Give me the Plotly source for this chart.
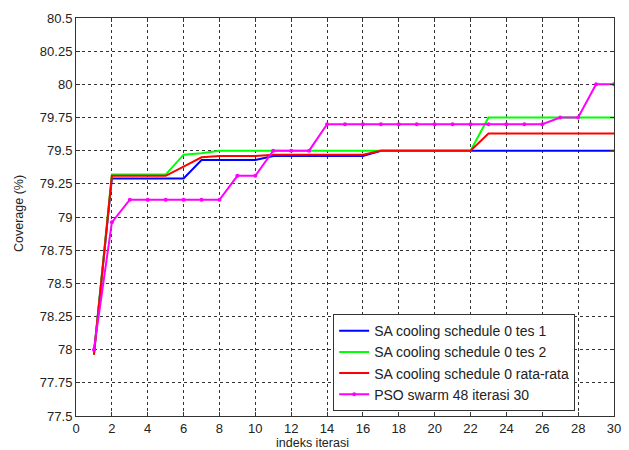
import plotly.graph_objects as go

iterasi = list(range(1, 31))

sa_tes1 = [77.97, 79.29, 79.29, 79.29, 79.29, 79.29, 79.43, 79.43, 79.43, 79.43,
           79.46, 79.46, 79.46, 79.46, 79.46, 79.46, 79.50, 79.50, 79.50, 79.50,
           79.50, 79.50, 79.50, 79.50, 79.50, 79.50, 79.50, 79.50, 79.50, 79.50]
sa_tes2 = [77.97, 79.32, 79.32, 79.32, 79.32, 79.47, 79.48, 79.50, 79.50, 79.50,
           79.50, 79.50, 79.50, 79.50, 79.50, 79.50, 79.50, 79.50, 79.50, 79.50,
           79.50, 79.50, 79.75, 79.75, 79.75, 79.75, 79.75, 79.75, 79.75, 79.75]
sa_rata = [77.96, 79.31, 79.31, 79.31, 79.31, 79.38, 79.45, 79.46, 79.46, 79.46,
           79.47, 79.47, 79.47, 79.47, 79.47, 79.47, 79.50, 79.50, 79.50, 79.50,
           79.50, 79.50, 79.63, 79.63, 79.63, 79.63, 79.63, 79.63, 79.63, 79.63]
pso = [78.00, 78.96, 79.13, 79.13, 79.13, 79.13, 79.13, 79.13, 79.31, 79.31,
       79.50, 79.50, 79.50, 79.70, 79.70, 79.70, 79.70, 79.70, 79.70, 79.70,
       79.70, 79.70, 79.70, 79.70, 79.70, 79.70, 79.75, 79.75, 80.00, 80.00]

names = ["SA cooling schedule 0 tes 1", "SA cooling schedule 0 tes 2",
         "SA cooling schedule 0 rata-rata", "PSO swarm 48 iterasi 30"]

x_ticks = list(range(0, 31, 2))
y_ticks = [77.5, 77.75, 78, 78.25, 78.5, 78.75, 79, 79.25, 79.5, 79.75, 80, 80.25, 80.5]
y_labels = ["77.5", "77.75", "78", "78.25", "78.5", "78.75", "79", "79.25",
            "79.5", "79.75", "80", "80.25", "80.5"]

fig = go.Figure()
fig.add_trace(go.Scatter(x=iterasi, y=sa_tes1, mode="lines", name=names[0],
                         line=dict(color="#0000FF", width=2)))
fig.add_trace(go.Scatter(x=iterasi, y=sa_tes2, mode="lines", name=names[1],
                         line=dict(color="#00FF00", width=2)))
fig.add_trace(go.Scatter(x=iterasi, y=sa_rata, mode="lines", name=names[2],
                         line=dict(color="#FF0000", width=2)))
fig.add_trace(go.Scatter(x=iterasi, y=pso, mode="lines+markers", name=names[3],
                         line=dict(color="#FF00FF", width=2),
                         marker=dict(color="#FF00FF", size=4)))

font_family = "Liberation Sans, Arial, sans-serif"

fig.update_layout(
    width=629, height=450,
    margin=dict(l=76, r=8, t=18, b=34),
    paper_bgcolor="white", plot_bgcolor="white",
    font=dict(family=font_family, size=13, color="#222"),
    showlegend=True,
    legend=dict(x=0.478, y=0.256, xanchor="left", yanchor="top",
                bgcolor="white", bordercolor="#333", borderwidth=1,
                font=dict(size=14, family=font_family, color="#222"),
                tracegroupgap=0, itemwidth=30),
    xaxis=dict(range=[0, 30], tickvals=x_ticks, showgrid=True,
               gridcolor="#333", griddash="dot", gridwidth=1,
               showline=True, linecolor="#333", linewidth=1, mirror="ticks",
               ticks="inside", ticklen=4, tickcolor="#333", zeroline=False,
               tickfont=dict(size=13, color="#222")),
    yaxis=dict(range=[77.5, 80.5], tickvals=y_ticks, ticktext=y_labels,
               showgrid=True, gridcolor="#333", griddash="dot", gridwidth=1,
               showline=True, linecolor="#333", linewidth=1, mirror="ticks",
               ticks="inside", ticklen=4, tickcolor="#333", zeroline=False,
               tickfont=dict(size=13, color="#222")),
    annotations=[
        dict(text="Coverage (%)", xref="paper", yref="paper", x=-0.106, y=0.51,
             xanchor="center", yanchor="middle", textangle=-90, showarrow=False,
             font=dict(size=12.5, family=font_family, color="#222")),
        dict(text="indeks iterasi", xref="paper", yref="paper", x=0.44, y=-0.068,
             xanchor="center", yanchor="middle", showarrow=False,
             font=dict(size=12.5, family=font_family, color="#222")),
    ],
)

fig.write_html("out.html")
